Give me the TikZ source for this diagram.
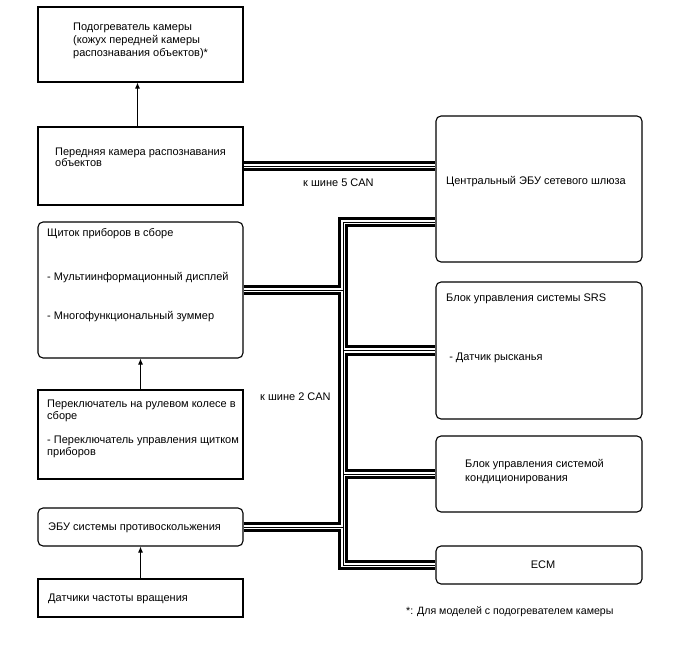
\documentclass[tikz,border=0pt]{standalone}
\usepackage{fontspec}
\setmainfont{Liberation Sans}
\usepackage{tikz}
\usetikzlibrary{arrows.meta}

\begin{document}
\begin{tikzpicture}[x=1pt, y=-1pt, >={Latex[length=6pt, width=5pt]},
    blok/.style={draw, line width=1.1pt, minimum width=205, inner sep=0},
    blokr/.style={blok, rounded corners=5pt},
    txt/.style={anchor=base west, align=left, inner sep=0, font=\fontsize{11}{13}\selectfont}]
    \useasboundingbox (0,0) rectangle (688,658);

    % 1. Блоки слева
    \node[blok, minimum height=75] (heater) at (140.5,44.5) {};
    \node[blok, minimum height=78] (camera) at (140.5,166) {};
    \node[blokr, minimum height=136] (cluster) at (140.5,290) {};
    \node[blok, minimum height=89] (steer) at (140.5,434.5) {};
    \node[blokr, minimum height=38] (abs) at (140.5,527) {};
    \node[blok, minimum height=38] (sensor) at (140.5,598) {};

    % 2. Блоки справа
    \node[blokr, minimum width=206, minimum height=146] (gateway) at (539,189) {};
    \node[blokr, minimum width=206, minimum height=137] (srs) at (539,350.5) {};
    \node[blokr, minimum width=206, minimum height=76] (ac) at (539,474) {};
    \node[blokr, minimum width=206, minimum height=38] (ecm) at (539,565) {};

    % 3. Тексты (база -- последняя строка)
    \node[txt] (heater-t) at (73,56.5) {Подогреватель камеры\\(кожух передней камеры\\распознавания объектов)*};
    \node[txt, font=\fontsize{11}{11}\selectfont] (camera-t) at (55,167) {Передняя камера распознавания\\объектов};
    \node[txt] (cluster-t) at (47,319) {Щиток приборов в сборе\\[31pt]- Мультиинформационный дисплей\\[26pt]- Многофункциональный зуммер};
    \node[txt, font=\fontsize{11}{12}\selectfont] (steer-t) at (47,455) {Переключатель на рулевом колесе в\\сборе\\[12pt]- Переключатель управления щитком\\приборов};
    \node[txt] (abs-t) at (48,530) {ЭБУ системы противоскольжения};
    \node[txt] (sensor-t) at (48,601.5) {Датчики частоты вращения};
    \node[txt] (gateway-t) at (446,184) {Центральный ЭБУ сетевого шлюза};
    \node[txt] (srs-t) at (446,360.5) {Блок управления системы SRS\\[46pt]\ - Датчик рысканья};
    \node[txt, font=\fontsize{11}{14}\selectfont] (ac-t) at (465,481.5) {Блок управления системой\\кондиционирования};
    \node[txt, anchor=base] (ecm-t) at (543,568.5) {ECM};
    \node[txt] (bus5) at (303,186) {к шине 5 CAN};
    \node[txt] (bus2) at (260,400) {к шине 2 CAN};
    \node[txt, font=\fontsize{10.6}{13}\selectfont] (note) at (406,614.5) {*: Для моделей с подогревателем камеры};

    % 4. Стрелки
    \draw[->, line width=0.9pt] ([xshift=-3]camera.north) -- ([xshift=-3]heater.south);
    \draw[->, line width=0.9pt] (steer.north) -- (cluster.south);
    \draw[->, line width=0.9pt] (sensor.north) -- (abs.south);

    % 5. Шины CAN
    \coordinate (trunk) at (343,222);
    \foreach \w/\c in {10.5/black, 4.6/white, 0.9/black} {
        \draw[line width=\w pt, \c, line join=miter] (camera.east) -- (camera.east -| gateway.west);
        \draw[line width=\w pt, \c, line join=miter]
            (gateway.west |- trunk) -- (trunk) -- (trunk |- ecm.west) -- (ecm.west);
        \draw[line width=\w pt, \c] (cluster.east) -- (cluster.east -| trunk);
        \draw[line width=\w pt, \c] (abs.east) -- (abs.east -| trunk);
        \draw[line width=\w pt, \c] (trunk |- srs.west) -- (srs.west);
        \draw[line width=\w pt, \c] (trunk |- ac.west) -- (ac.west);
    }
\end{tikzpicture}
\end{document}
